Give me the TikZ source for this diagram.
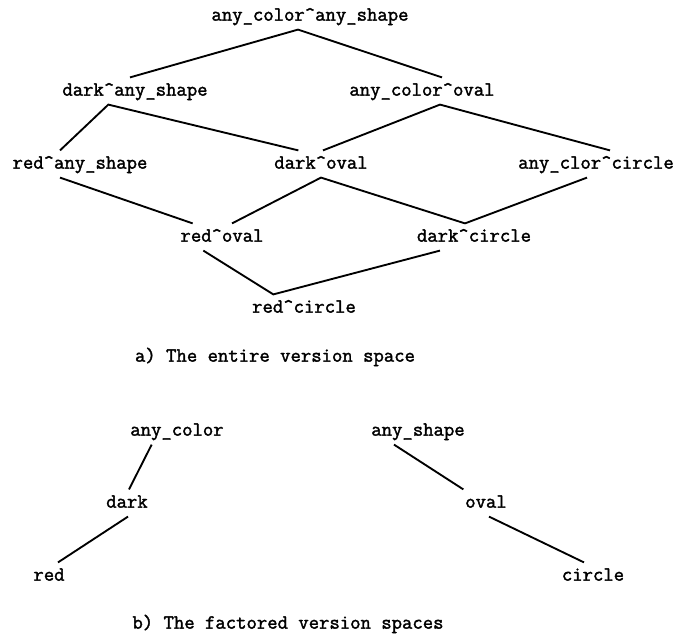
\documentclass[tikz,border=0pt]{standalone}
\usepackage{fontspec}
\newfontfamily\treefont{Latin Modern Mono}[FakeBold=1.8]
\usepackage{tikz}

\begin{document}
\begin{tikzpicture}[x=0.75pt,y=-0.75pt,line width=1.4pt,
  every node/.style={inner xsep=0pt,inner ysep=6pt,text height=7pt,text depth=0pt,
    font=\fontsize{15.1}{17}\selectfont\treefont}]
\useasboundingbox (0,0) rectangle (678,635);
\node (top) at (310,16) {any\_color\textasciicircum any\_shape};
\node (dany) at (135,91) {dark\textasciicircum any\_shape};
\node (coval) at (422,91) {any\_color\textasciicircum oval};
\node (rany) at (80,164) {red\textasciicircum any\_shape};
\node (doval) at (321,164) {dark\textasciicircum oval};
\node (ccirc) at (596,164) {any\_clor\textasciicircum circle};
\node (roval) at (222,237) {red\textasciicircum oval};
\node (dcirc) at (474,237) {dark\textasciicircum circle};
\node (rcirc) at (304,308) {red\textasciicircum circle};
\node (capa) at (275,357) {a) The entire version space};
\node (bcolor) at (177,431) {any\_color};
\node (bshape) at (418,431) {any\_shape};
\node (bdark) at (127,503) {dark};
\node (boval) at (486,503) {oval};
\node (bred) at (49,576) {red};
\node (bcirc) at (593,576) {circle};
\node (capb) at (288,624) {b) The factored version spaces};
\draw ([xshift=-3.75pt]dany.north)--([xshift=-9pt]top.south)--([xshift=15pt]coval.north);
\draw ([xshift=-15pt]rany.north)--([xshift=-20pt]dany.south)--([xshift=-17pt]doval.north);
\draw ([xshift=1.5pt]doval.north)--([xshift=13.5pt]coval.south)--([xshift=10.5pt]ccirc.north);
\draw ([xshift=-15pt]rany.south)--([xshift=-22pt]roval.north);
\draw ([xshift=7.5pt]roval.north)--(doval.south)--([xshift=-6.75pt]dcirc.north);
\draw ([xshift=-6.75pt]ccirc.south)--([xshift=-6.75pt]dcirc.north);
\draw ([xshift=-14pt]roval.south)--([xshift=-23pt]rcirc.north)--([xshift=-25.5pt]dcirc.south);
\draw ([xshift=-19pt]bcolor.south)--([xshift=1.5pt]bdark.north);
\draw ([xshift=0.75pt]bdark.south)--([xshift=6.75pt]bred.north);
\draw ([xshift=-18pt]bshape.south)--([xshift=-17pt]boval.north);
\draw ([xshift=2.25pt]boval.south)--([xshift=-6.75pt]bcirc.north);
\end{tikzpicture}
\end{document}
